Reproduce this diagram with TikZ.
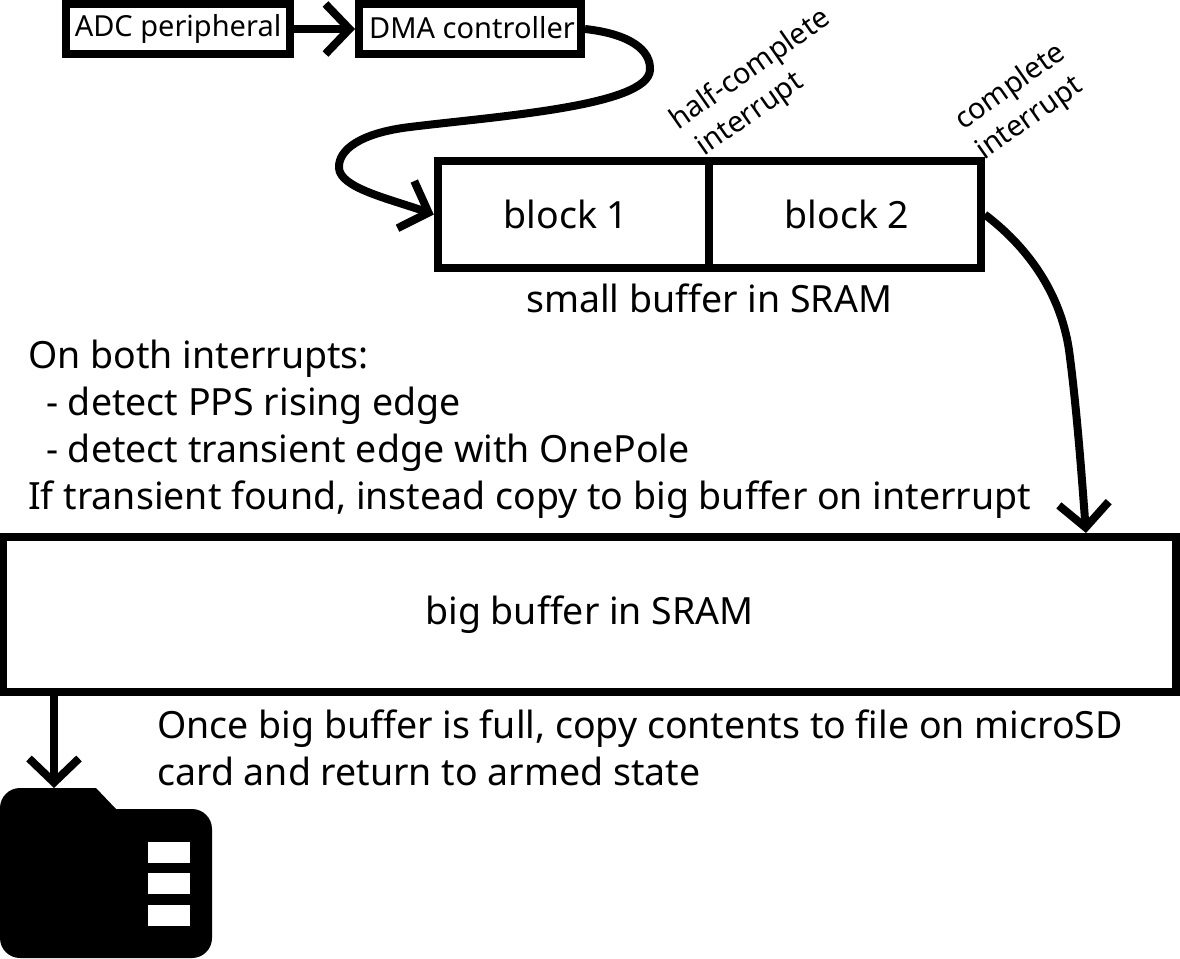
\documentclass[tikz,border=0pt]{standalone}
\usepackage{fontspec}
\setmainfont{Noto Sans}
\usetikzlibrary{arrows.meta,positioning,shapes}
\tikzset{%
  >={Straight Barb[length=24pt,width=50pt]},
  % Specifications for style of nodes:
         base/.style = {rectangle, draw=black, line width=8pt, inner sep=0pt,
                        text centered},
     smallBox/.style = {base, minimum height=50pt, font=\fontsize{29}{35}\selectfont},
     blockBox/.style = {base, minimum width=271.5pt, minimum height=107pt},
    interrupt/.style = {inner sep=0pt, rotate=35, align=left, anchor=south west,
                        font=\fontsize{29}{36.5}\selectfont},
    plainText/.style = {inner sep=0pt, align=left, anchor=north west},
         flow/.style = {->, line width=8pt},
      cardPin/.style = {fill=white, draw=none, minimum width=42pt, minimum height=21pt, inner sep=0pt},
}

\begin{document}
\begin{tikzpicture}[x=1pt, y=-1pt,
    every node/.style={font=\fontsize{37.5}{47}\selectfont}]
    \useasboundingbox (0,0) rectangle (1180,958);

    \node (adc) [smallBox, minimum width=224pt] at (178,29) {ADC peripheral};
    \node (dma) [smallBox, minimum width=222pt, text depth=4pt] at (470,29) {\hspace*{4pt}DMA controller};
    \draw [flow] (adc) to (dma);

    \node (halfInt) [interrupt] at (703,166) {half-complete\\\hspace*{7pt}interrupt};
    \node (fullInt) [interrupt] at (988,166) {complete\\interrupt};

    \node (block1) [blockBox] at (573.5,214.5) {block 1\hspace*{15pt}};
    \node (block2) [blockBox] at (845,214.5) {\hspace*{4pt}block 2};
    \node (smallLabel) [below = 12pt of block1.south east, xshift=-4pt, inner sep=0pt] {small buffer in SRAM};

    \draw [flow] (dma.east) .. controls (630,34) and (651,50) .. (650,70)
        .. controls (648,106) and (500,116) .. (410,127)
        .. controls (360,133) and (338,150) .. (339,168)
        .. controls (340,188) and (390,199) .. (block1.west);

    \node (steps) [plainText] at (28,340) {On both interrupts:\\
        \hspace*{18pt}- detect PPS rising edge\\
        \hspace*{18pt}- detect transient edge with OnePole\\
        If transient found, instead copy to big buffer on interrupt};

    \node (big) [base, minimum width=1173pt, minimum height=155pt] at (589.5,614.5) {big buffer in SRAM};
    \coordinate (bigIn) at (1086,533);
    \draw [flow] (block2.east) .. controls (1025,245) and (1060,290) .. (1069,350)
        .. controls (1077,410) and (1082,480) .. (bigIn);

    \node (fullText) [plainText] at (157,710) {Once big buffer is full, copy contents to file on microSD\\
        card and return to armed state};

    % microSD card
    \coordinate (cardTop) at (54,788);
    \fill [black, rounded corners=20pt] (0,958) -- (0,788) -- (40,788) [sharp corners] -- (96,788) -- (116,809) -- (180,809)
        [rounded corners=20pt] -- (212,809) -- (212,958) -- cycle;
    \node (pin1) [cardPin] at (169,852.5) {};
    \node (pin2) [cardPin, below = 10pt of pin1] {};
    \node (pin3) [cardPin, below = 10pt of pin2] {};

    \draw [flow] (big.south -| cardTop) -- (cardTop);
\end{tikzpicture}
\end{document}
